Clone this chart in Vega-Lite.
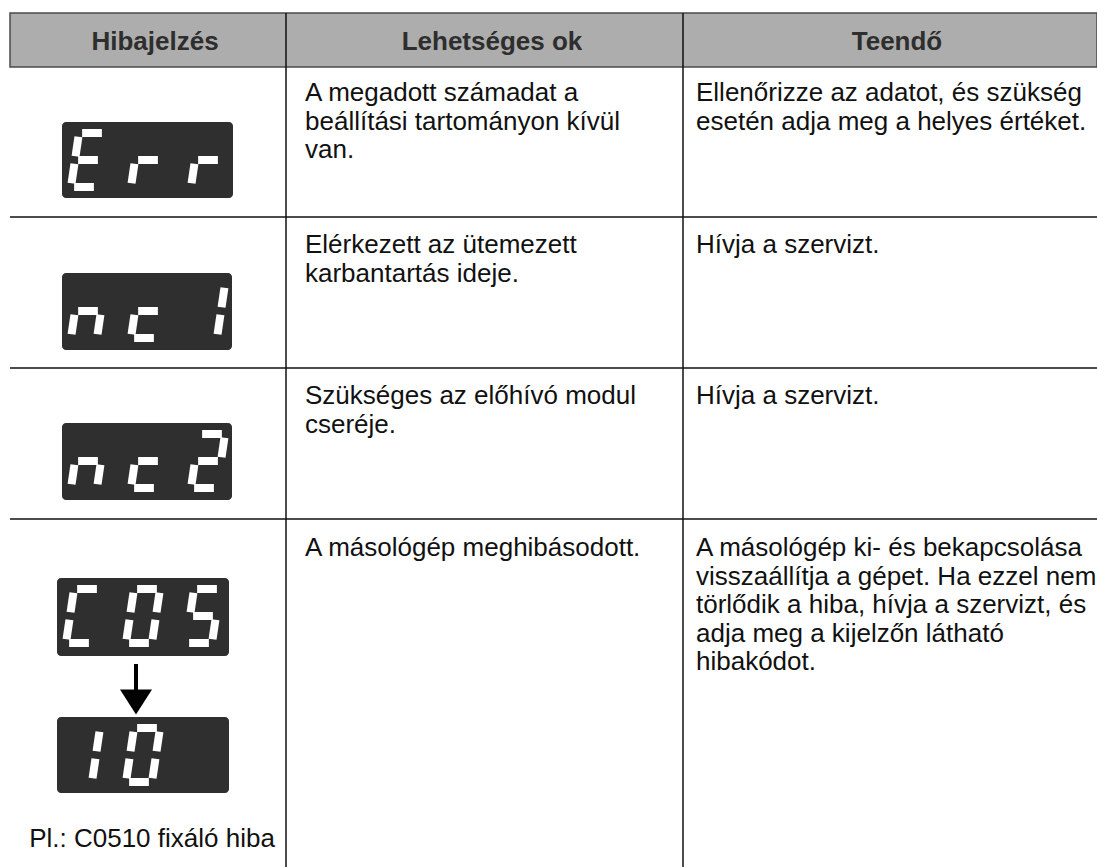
{
  "$schema": "https://vega.github.io/schema/vega-lite/v6.json",
  "width": 1097,
  "height": 867,
  "padding": 0,
  "autosize": {"type": "none"},
  "background": "white",
  "config": {"view": {"stroke": null}},
  "datasets": {
    "boxes": [
      {"id": "Err", "x": 62, "x2": 233, "y": 122, "y2": 198},
      {"id": "nc1", "x": 62, "x2": 232, "y": 273, "y2": 350},
      {"id": "nc2", "x": 62, "x2": 232, "y": 423, "y2": 500},
      {"id": "C05", "x": 57, "x2": 229, "y": 578, "y2": 656},
      {"id": "10", "x": 57, "x2": 229, "y": 717, "y2": 793}
    ],
    "segments": [
      {"seg": "a", "u1": 0.12, "v1": 1, "u2": 0.88, "v2": 1},
      {"seg": "b", "u1": 1, "v1": 0.93, "u2": 1, "v2": 0.57},
      {"seg": "c", "u1": 1, "v1": 0.43, "u2": 1, "v2": 0.07},
      {"seg": "d", "u1": 0.12, "v1": 0, "u2": 0.88, "v2": 0},
      {"seg": "e", "u1": 0, "v1": 0.43, "u2": 0, "v2": 0.07},
      {"seg": "f", "u1": 0, "v1": 0.93, "u2": 0, "v2": 0.57},
      {"seg": "g", "u1": 0.12, "v1": 0.5, "u2": 0.88, "v2": 0.5}
    ],
    "digits": [
      {"box": "Err", "pos": 0, "segs": "afged"},
      {"box": "Err", "pos": 1, "segs": "eg"},
      {"box": "Err", "pos": 2, "segs": "eg"},
      {"box": "nc1", "pos": 0, "segs": "ceg"},
      {"box": "nc1", "pos": 1, "segs": "deg"},
      {"box": "nc1", "pos": 2, "segs": "bc"},
      {"box": "nc2", "pos": 0, "segs": "ceg"},
      {"box": "nc2", "pos": 1, "segs": "deg"},
      {"box": "nc2", "pos": 2, "segs": "abged"},
      {"box": "C05", "pos": 0, "segs": "afed"},
      {"box": "C05", "pos": 1, "segs": "abcdef"},
      {"box": "C05", "pos": 2, "segs": "afgcd"},
      {"box": "10", "pos": 0, "segs": "bc"},
      {"box": "10", "pos": 1, "segs": "abcdef"}
    ],
    "rules": [
      {"x": 10, "x2": 1097, "y": 217, "y2": 217},
      {"x": 10, "x2": 1097, "y": 368, "y2": 368},
      {"x": 10, "x2": 1097, "y": 519, "y2": 519},
      {"x": 286, "x2": 286, "y": 13, "y2": 867},
      {"x": 683, "x2": 683, "y": 13, "y2": 867}
    ],
    "header": [
      {"x": 155, "y": 50, "t": "Hibajelzés"},
      {"x": 492, "y": 50, "t": "Lehetséges ok"},
      {"x": 897, "y": 50, "t": "Teendő"}
    ],
    "body": [
      {"x": 305, "y": 101, "t": ["A megadott számadat a", "beállítási tartományon kívül", "van."]},
      {"x": 696, "y": 101, "t": ["Ellenőrizze az adatot, és szükség", "esetén adja meg a helyes értéket."]},
      {"x": 305, "y": 253, "t": ["Elérkezett az ütemezett", "karbantartás ideje."]},
      {"x": 696, "y": 253, "t": ["Hívja a szervizt."]},
      {"x": 305, "y": 404, "t": ["Szükséges az előhívó modul", "cseréje."]},
      {"x": 696, "y": 404, "t": ["Hívja a szervizt."]},
      {"x": 305, "y": 556, "t": ["A másológép meghibásodott."]},
      {"x": 696, "y": 556, "t": ["A másológép ki- és bekapcsolása", "visszaállítja a gépet. Ha ezzel nem", "törlődik a hiba, hívja a szervizt, és", "adja meg a kijelzőn látható", "hibakódot."]}
    ],
    "note": [
      {"x": 152, "y": 847, "t": "Pl.: C0510 fixáló hiba"}
    ],
    "arrowShaft": [
      {"x": 136, "x2": 136, "y": 664, "y2": 692}
    ],
    "arrowHead": [
      {"x": 136, "y": 702}
    ]
  },
  "layer": [
    {
      "data": {"values": [{"x": 10, "x2": 1097, "y": 13, "y2": 67}]},
      "mark": {"type": "rect", "fill": "#adadad", "stroke": "#4a4a4a", "strokeWidth": 1.5},
      "encoding": {
        "x": {"field": "x", "type": "quantitative", "scale": {"domain": [0, 1097], "nice": false, "zero": false}, "axis": null},
        "x2": {"field": "x2"},
        "y": {"field": "y", "type": "quantitative", "scale": {"domain": [0, 867], "reverse": true, "nice": false, "zero": false}, "axis": null},
        "y2": {"field": "y2"}
      }
    },
    {
      "data": {"name": "rules"},
      "mark": {"type": "rule", "stroke": "#111111", "strokeWidth": 1.5},
      "encoding": {
        "x": {"field": "x", "type": "quantitative", "scale": {"domain": [0, 1097], "nice": false, "zero": false}, "axis": null},
        "x2": {"field": "x2"},
        "y": {"field": "y", "type": "quantitative", "scale": {"domain": [0, 867], "reverse": true, "nice": false, "zero": false}, "axis": null},
        "y2": {"field": "y2"}
      }
    },
    {
      "data": {"name": "header"},
      "mark": {"type": "text", "font": "Liberation Sans", "fontWeight": "bold", "fontSize": 26, "align": "center", "baseline": "alphabetic", "fill": "#2e2e2e"},
      "encoding": {
        "x": {"field": "x", "type": "quantitative", "scale": {"domain": [0, 1097], "nice": false, "zero": false}, "axis": null},
        "y": {"field": "y", "type": "quantitative", "scale": {"domain": [0, 867], "reverse": true, "nice": false, "zero": false}, "axis": null},
        "text": {"field": "t", "type": "nominal"}
      }
    },
    {
      "data": {"name": "body"},
      "mark": {"type": "text", "font": "Liberation Sans", "fontSize": 26, "lineHeight": 28.5, "align": "left", "baseline": "alphabetic", "fill": "#111111"},
      "encoding": {
        "x": {"field": "x", "type": "quantitative", "scale": {"domain": [0, 1097], "nice": false, "zero": false}, "axis": null},
        "y": {"field": "y", "type": "quantitative", "scale": {"domain": [0, 867], "reverse": true, "nice": false, "zero": false}, "axis": null},
        "text": {"field": "t", "type": "nominal"}
      }
    },
    {
      "data": {"name": "note"},
      "mark": {"type": "text", "font": "Liberation Sans", "fontSize": 26, "align": "center", "baseline": "alphabetic", "fill": "#111111"},
      "encoding": {
        "x": {"field": "x", "type": "quantitative", "scale": {"domain": [0, 1097], "nice": false, "zero": false}, "axis": null},
        "y": {"field": "y", "type": "quantitative", "scale": {"domain": [0, 867], "reverse": true, "nice": false, "zero": false}, "axis": null},
        "text": {"field": "t", "type": "nominal"}
      }
    },
    {
      "data": {"name": "boxes"},
      "mark": {"type": "rect", "fill": "#2f2f2f", "cornerRadius": 4},
      "encoding": {
        "x": {"field": "x", "type": "quantitative", "scale": {"domain": [0, 1097], "nice": false, "zero": false}, "axis": null},
        "x2": {"field": "x2"},
        "y": {"field": "y", "type": "quantitative", "scale": {"domain": [0, 867], "reverse": true, "nice": false, "zero": false}, "axis": null},
        "y2": {"field": "y2"}
      }
    },
    {
      "data": {"name": "digits"},
      "transform": [
        {"calculate": "split(datum.segs, '')", "as": "seglist"},
        {"flatten": ["seglist"], "as": ["seg"]},
        {"lookup": "box", "from": {"data": {"name": "boxes"}, "key": "id", "fields": ["x", "y"]}, "as": ["bx", "by"]},
        {"lookup": "seg", "from": {"data": {"name": "segments"}, "key": "seg", "fields": ["u1", "v1", "u2", "v2"]}},
        {"calculate": "datum.bx + 9 + datum.pos * 60 + datum.u1 * 26 + datum.v1 * 8", "as": "sx"},
        {"calculate": "datum.by + 65 - datum.v1 * 54", "as": "sy"},
        {"calculate": "datum.bx + 9 + datum.pos * 60 + datum.u2 * 26 + datum.v2 * 8", "as": "sx2"},
        {"calculate": "datum.by + 65 - datum.v2 * 54", "as": "sy2"}
      ],
      "mark": {"type": "rule", "stroke": "white", "strokeWidth": 8, "strokeCap": "butt"},
      "encoding": {
        "x": {"field": "sx", "type": "quantitative", "scale": {"domain": [0, 1097], "nice": false, "zero": false}, "axis": null},
        "x2": {"field": "sx2"},
        "y": {"field": "sy", "type": "quantitative", "scale": {"domain": [0, 867], "reverse": true, "nice": false, "zero": false}, "axis": null},
        "y2": {"field": "sy2"}
      }
    },
    {
      "data": {"name": "arrowShaft"},
      "mark": {"type": "rule", "stroke": "#000000", "strokeWidth": 4},
      "encoding": {
        "x": {"field": "x", "type": "quantitative", "scale": {"domain": [0, 1097], "nice": false, "zero": false}, "axis": null},
        "x2": {"field": "x2"},
        "y": {"field": "y", "type": "quantitative", "scale": {"domain": [0, 867], "reverse": true, "nice": false, "zero": false}, "axis": null},
        "y2": {"field": "y2"}
      }
    },
    {
      "data": {"name": "arrowHead"},
      "mark": {"type": "point", "shape": "M-1,-0.78L1,-0.78L0,0.78Z", "size": 1024, "filled": true, "fill": "#000000", "stroke": null, "opacity": 1},
      "encoding": {
        "x": {"field": "x", "type": "quantitative", "scale": {"domain": [0, 1097], "nice": false, "zero": false}, "axis": null},
        "y": {"field": "y", "type": "quantitative", "scale": {"domain": [0, 867], "reverse": true, "nice": false, "zero": false}, "axis": null}
      }
    }
  ]
}
